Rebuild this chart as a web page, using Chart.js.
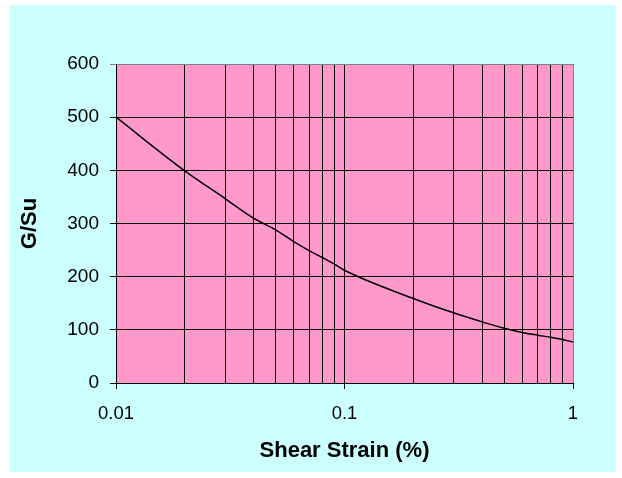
<!DOCTYPE html>
<html>
<head>
<meta charset="utf-8">
<script src="https://cdn.jsdelivr.net/npm/chart.js@4"></script>
<style>
  html, body { margin: 0; padding: 0; background: #ffffff; }
  #wrap { width: 622px; height: 478px; }
</style>
</head>
<body>
<div id="wrap"><canvas id="modulusChart" width="622" height="478"></canvas></div>
<script>
// shear strain (%) and G/Su
const strains = [0.01, 0.02, 0.03, 0.04, 0.05, 0.06, 0.07, 0.08, 0.09, 0.1,
                 0.2, 0.3, 0.4, 0.5, 0.6, 0.7, 0.8, 0.9, 1];
const ratios = [500, 399, 347, 310, 288, 266, 249, 236, 224, 212,
                159, 132, 115, 103, 95, 90, 86, 82, 77];

const yTicks = [0, 100, 200, 300, 400, 500, 600];
// vertical grid lines of the log axis, labels only on the decades
const xGrid = [0.01, 0.02, 0.03, 0.04, 0.05, 0.06, 0.07, 0.08, 0.09,
               0.1, 0.2, 0.3, 0.4, 0.5, 0.6, 0.7, 0.8, 0.9, 1];
const xLabels = [0.01, 0.1, 1];

const fontFamily = "'Liberation Sans', Arial, sans-serif";

// paints the cyan chart box and the pink plot area
const backdrop = {
    id: 'backdrop',
    beforeDraw(chart) {
        const ctx = chart.ctx;
        const a = chart.chartArea;
        ctx.save();
        ctx.fillStyle = '#ffffff';
        ctx.fillRect(0, 0, chart.width, chart.height);
        ctx.fillStyle = '#ccffff';
        ctx.fillRect(10, 5, 606, 467);
        ctx.fillStyle = '#ff99cc';
        ctx.fillRect(a.left, a.top, a.right - a.left, a.bottom - a.top);
        ctx.restore();
    }
};

const ctx = document.getElementById('modulusChart').getContext('2d');
new Chart(ctx, {
    type: 'line',
    data: {
        datasets: [{
            data: strains.map((s, i) => ({x: s, y: ratios[i]})),
            borderColor: '#000000',
            borderWidth: 1.5,
            pointRadius: 0,
            cubicInterpolationMode: 'monotone',
            fill: false
        }]
    },
    options: {
        responsive: false,
        animation: false,
        events: [],
        layout: {padding: {left: 10, right: 49, top: 64, bottom: 8}},
        plugins: {legend: {display: false}, tooltip: {enabled: false}},
        scales: {
            x: {
                type: 'logarithmic',
                min: 0.01,
                max: 1,
                afterFit: scale => { scale.height = 87; },
                afterBuildTicks: scale => { scale.ticks = xGrid.map(v => ({value: v, major: xLabels.includes(v)})); },
                grid: {
                    color: c => (c.tick && c.tick.value === 1) ? '#808080' : '#000000',
                    tickColor: c => (c.tick && xLabels.includes(c.tick.value)) ? '#000000' : 'rgba(0,0,0,0)',
                    lineWidth: 1,
                    tickLength: 6
                },
                border: {color: '#000000', width: 1},
                ticks: {
                    color: '#000000',
                    font: {family: fontFamily, size: 18.5},
                    padding: 14,
                    autoSkip: false,
                    maxRotation: 0,
                    callback: v => xLabels.includes(v) ? String(v) : ''
                },
                title: {
                    display: true,
                    text: 'Shear Strain (%)',
                    color: '#000000',
                    font: {family: fontFamily, size: 22, weight: 'bold'},
                    padding: {top: 4, bottom: 6}
                }
            },
            y: {
                min: 0,
                max: 600,
                afterFit: scale => { scale.width = 106; },
                afterBuildTicks: scale => { scale.ticks = yTicks.map(v => ({value: v})); },
                grid: {
                    color: c => (c.tick && c.tick.value === 600) ? '#808080' : '#000000',
                    lineWidth: 1,
                    tickLength: 6
                },
                border: {color: '#000000', width: 1},
                ticks: {
                    color: '#000000',
                    font: {family: fontFamily, size: 19},
                    padding: 11
                },
                title: {
                    display: true,
                    text: 'G/Su',
                    color: '#000000',
                    font: {family: fontFamily, size: 22, weight: 'bold'},
                    padding: {top: 7, bottom: 4}
                }
            }
        }
    },
    plugins: [backdrop]
});
</script>
</body>
</html>
